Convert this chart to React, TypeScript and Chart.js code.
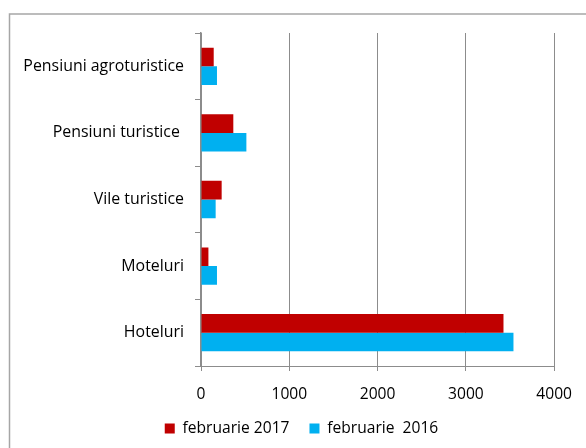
import React, { useEffect, useRef } from "react";
import { Chart, registerables } from "chart.js";

Chart.register(...registerables);

const categories = [
  "Pensiuni agroturistice",
  "Pensiuni turistice ",
  "Vile turistice",
  "Moteluri",
  "Hoteluri",
];
const seriesNames = ["februarie 2017", "februarie  2016"];
const values2017 = [144, 366, 234, 84, 3426];
const values2016 = [181, 514, 166, 181, 3539];
const xTicks = [0, 1000, 2000, 3000, 4000];

const FONT = "'Open Sans', sans-serif";
const FS = 15.6;
const FS_Y = 15.9;
const GRID = "#8c8c8c";

const framePlugin = {
  id: "frame",
  beforeDraw(chart: any) {
    const ctx = chart.ctx;
    ctx.save();
    ctx.fillStyle = "#ffffff";
    ctx.fillRect(0, 0, chart.width, chart.height);
    ctx.strokeStyle = "#a6a6a6";
    ctx.lineWidth = 1.5;
    ctx.beginPath();
    ctx.moveTo(9.5, chart.height + 2);
    ctx.lineTo(9.5, 14);
    ctx.lineTo(chart.width + 2, 14);
    ctx.stroke();
    ctx.restore();
  },
};

export default function App() {
  const ref = useRef<HTMLCanvasElement | null>(null);

  useEffect(() => {
    if (!ref.current) return;
    const chart = new Chart(ref.current, {
      type: "bar",
      data: {
        labels: categories,
        datasets: [
          {
            label: seriesNames[0],
            data: values2017,
            backgroundColor: "#C00000",
            borderWidth: 0,
            categoryPercentage: 0.56,
            barPercentage: 1,
          },
          {
            label: seriesNames[1],
            data: values2016,
            backgroundColor: "#00B0F0",
            borderWidth: 0,
            categoryPercentage: 0.56,
            barPercentage: 1,
          },
        ],
      },
      options: {
        indexAxis: "y",
        responsive: false,
        animation: false,
        layout: { padding: { top: 33, left: 17, right: 0, bottom: 1.7 } },
        scales: {
          x: {
            min: 0,
            max: 4000,
            afterBuildTicks: (scale: any) => {
              scale.ticks = xTicks.map((v) => ({ value: v }));
            },
            afterFit: (scale: any) => {
              scale.height = 34.7;
            },
            grid: {
              color: GRID,
              lineWidth: 1,
              tickLength: 5,
              drawOnChartArea: true,
            },
            border: { color: GRID, width: 1 },
            ticks: {
              color: "#000",
              font: { family: FONT, size: FS },
              padding: 14,
              maxRotation: 0,
              callback: (v: any) => String(v),
            },
          },
          y: {
            offset: true,
            afterFit: (scale: any) => {
              scale.width = 184;
            },
            grid: {
              offset: true,
              drawOnChartArea: false,
              color: GRID,
              tickLength: 6,
            },
            border: { color: GRID, width: 1.5 },
            ticks: {
              color: "#000",
              font: { family: FONT, size: FS_Y },
              padding: 11,
            },
          },
          spacer: {
            type: "linear",
            position: "right",
            afterFit: (scale: any) => {
              scale.width = 31;
            },
            grid: { display: false, drawTicks: false },
            border: { display: false },
            ticks: { display: false },
          },
        },
        plugins: {
          legend: {
            position: "bottom",
            labels: {
              color: "#000",
              font: { family: FONT, size: FS },
              boxWidth: 10,
              boxHeight: 10,
              padding: 20,
            },
          },
          tooltip: { enabled: false },
        },
      },
      plugins: [framePlugin],
    });
    return () => chart.destroy();
  }, []);

  return (
    <div style={{ position: "absolute", left: 0, top: 0, width: 586, height: 448 }}>
      <canvas ref={ref} width={586} height={448} style={{ display: "block" }} />
    </div>
  );
}
